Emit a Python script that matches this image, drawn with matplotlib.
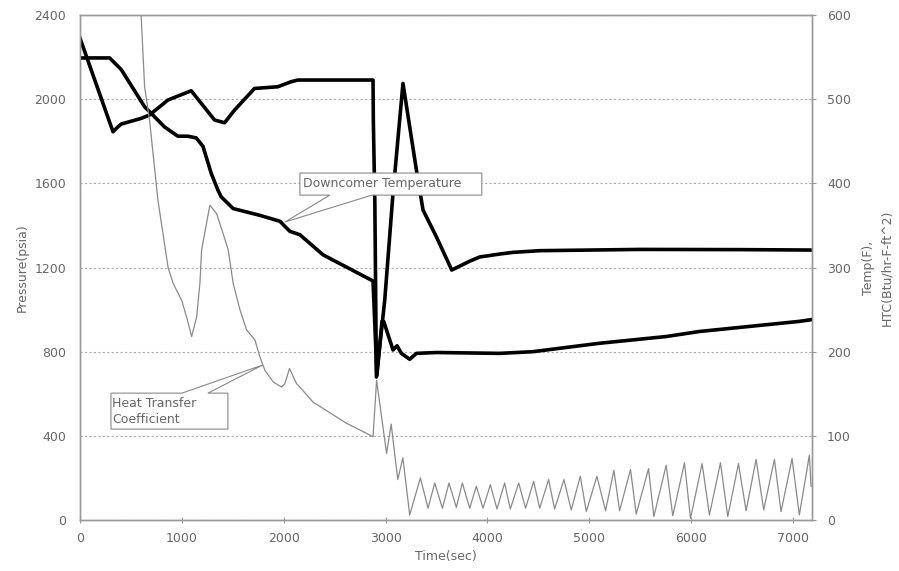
import matplotlib
matplotlib.use("Agg")
import matplotlib.pyplot as plt
from matplotlib.patches import Polygon

# pressure (psia, left axis)
press_t = [0, 324, 373, 406, 602, 683, 863, 1092, 1321, 1419, 1517, 1713, 1942, 2073, 2139,
           2877, 2880, 2895, 2910, 2992, 3073, 3171, 3303, 3368, 3499, 3650, 3826, 3924,
           4120, 4251, 4513, 5500, 6500, 7180]
press_v = [2290, 1845, 1869, 1882, 1909, 1925, 1996, 2040, 1901, 1888, 1948, 2051, 2059, 2083, 2091,
           2091, 1900, 1500, 680, 1045, 1552, 2075, 1663, 1473, 1346, 1188, 1230, 1250,
           1264, 1272, 1280, 1286, 1285, 1283]

# downcomer temperature (F, right axis)
temp_t = [0, 291, 406, 634, 700, 830, 961, 1059, 1141, 1207, 1288, 1354, 1386, 1504, 1766,
          1962, 2060, 2158, 2387, 2877, 2915, 2965, 2982, 3041, 3073, 3113, 3155, 3237, 3303,
          3500, 4120, 4447, 4774, 5101, 5428, 5755, 6082, 6409, 6736, 7063, 7178]
temp_v = [549, 549, 535, 491, 483, 467, 456, 456, 454, 444, 412, 392, 384, 370, 362,
          355, 343, 339, 315, 284, 172, 236, 236, 214, 202, 207, 198, 191, 198,
          199, 198, 200, 205, 210, 214, 218, 224, 228, 232, 236, 238]

# heat transfer coefficient (Btu/hr-F-ft^2, right axis)
htc_t = [580, 634, 683, 765, 865, 915, 998, 1047, 1096, 1145, 1177, 1194, 1275, 1341, 1406,
         1455, 1504, 1570, 1635, 1717, 1766, 1815, 1897, 1979, 2011, 2057, 2126, 2158, 2289,
         2616, 2877, 2912, 3010, 3055, 3120, 3170, 3237,
         3342, 3417, 3483, 3558, 3623, 3695, 3754, 3826, 3891, 3957, 4029, 4094, 4169, 4225,
         4307, 4375, 4454, 4513, 4601, 4660, 4751, 4823, 4912, 4971, 5075, 5160, 5242, 5298,
         5405, 5461, 5582, 5634, 5755, 5820, 5935, 5994, 6108, 6180, 6288, 6360, 6465, 6540,
         6638, 6713, 6818, 6883, 6991, 7063, 7161, 7178]
htc_v = [650, 515, 475, 380, 300, 281, 261, 241, 218, 241, 281, 321, 374, 364, 340,
         321, 281, 250, 226, 214, 194, 178, 164, 158, 162, 180, 162, 158, 140,
         115, 99, 166, 79, 114, 48, 74, 6,
         50, 14, 44, 14, 44, 15, 44, 14, 40, 14, 42, 13, 44, 13,
         44, 14, 46, 14, 48, 13, 48, 12, 52, 10, 52, 11, 59, 11,
         60, 7, 61, 4, 65, 5, 68, 2, 67, 6, 68, 4, 67, 11,
         72, 12, 72, 10, 73, 6, 77, 40]

x_ticks = [0, 1000, 2000, 3000, 4000, 5000, 6000, 7000]
left_ticks = [0, 400, 800, 1200, 1600, 2000, 2400]
right_ticks = [0, 100, 200, 300, 400, 500, 600]

grey = "#666666"
fig = plt.figure(figsize=(8.99, 5.71), dpi=100)
ax = fig.add_axes([0.089, 0.0893, 0.814, 0.8844])
ax2 = ax.twinx()

ax.plot(press_t, press_v, color="black", lw=2.6, solid_joinstyle="round")
ax2.plot(temp_t, temp_v, color="black", lw=2.6, solid_joinstyle="round")
ax2.plot(htc_t, htc_v, color="#8a8a8a", lw=0.9)

ax.set_xlim(0, 7185)
ax.set_ylim(0, 2400)
ax2.set_ylim(0, 600)
ax.set_xticks(x_ticks)
ax.set_yticks(left_ticks)
ax2.set_yticks(right_ticks)

for a in (ax, ax2):
    for s in a.spines.values():
        s.set_color("#999999")
        s.set_linewidth(1.0)
ax.tick_params(axis="x", direction="inout", length=5, color="#999999", labelsize=9,
               labelcolor=grey, pad=6)
ax.tick_params(axis="y", length=0, labelsize=9, labelcolor=grey, pad=10)
ax2.tick_params(axis="y", direction="out", length=3, color="#999999", labelsize=9,
                labelcolor=grey, pad=8)

ax.yaxis.grid(True, color="#aaaaaa", linestyle=(0, (2, 2)), lw=0.8)
ax.set_axisbelow(True)

ax.set_xlabel("Time(sec)", fontsize=9, color=grey, labelpad=4)
ax.set_ylabel("Pressure(psia)", fontsize=9, color=grey, labelpad=4)
ax2.set_ylabel("Temp(F),\nHTC(Btu/hr-F-ft^2)", fontsize=9, color=grey, labelpad=8,
               linespacing=1.5)

# callout boxes (left-axis data units)
dc_box = [(2159, 1649), (3945, 1649), (3945, 1544), (2865, 1544), (2011, 1416),
          (2453, 1544), (2159, 1544)]
ax2.add_patch(Polygon(dc_box, closed=True, facecolor="white", edgecolor="#888888",
                      lw=0.8, transform=ax.transData, zorder=5))
ax2.text(2185, 1597, "Downcomer Temperature", transform=ax.transData, fontsize=9,
         color=grey, va="center", ha="left", zorder=6)

htc_box = [(304, 603), (1001, 603), (1795, 737), (1256, 603), (1452, 603), (1452, 432),
           (304, 432)]
ax2.add_patch(Polygon(htc_box, closed=True, facecolor="white", edgecolor="#888888",
                      lw=0.8, transform=ax.transData, zorder=5))
ax2.text(315, 518, "Heat Transfer\nCoefficient", transform=ax.transData, fontsize=9,
         color=grey, va="center", ha="left", linespacing=1.3, zorder=6)

fig.savefig("out.png", dpi=100)
